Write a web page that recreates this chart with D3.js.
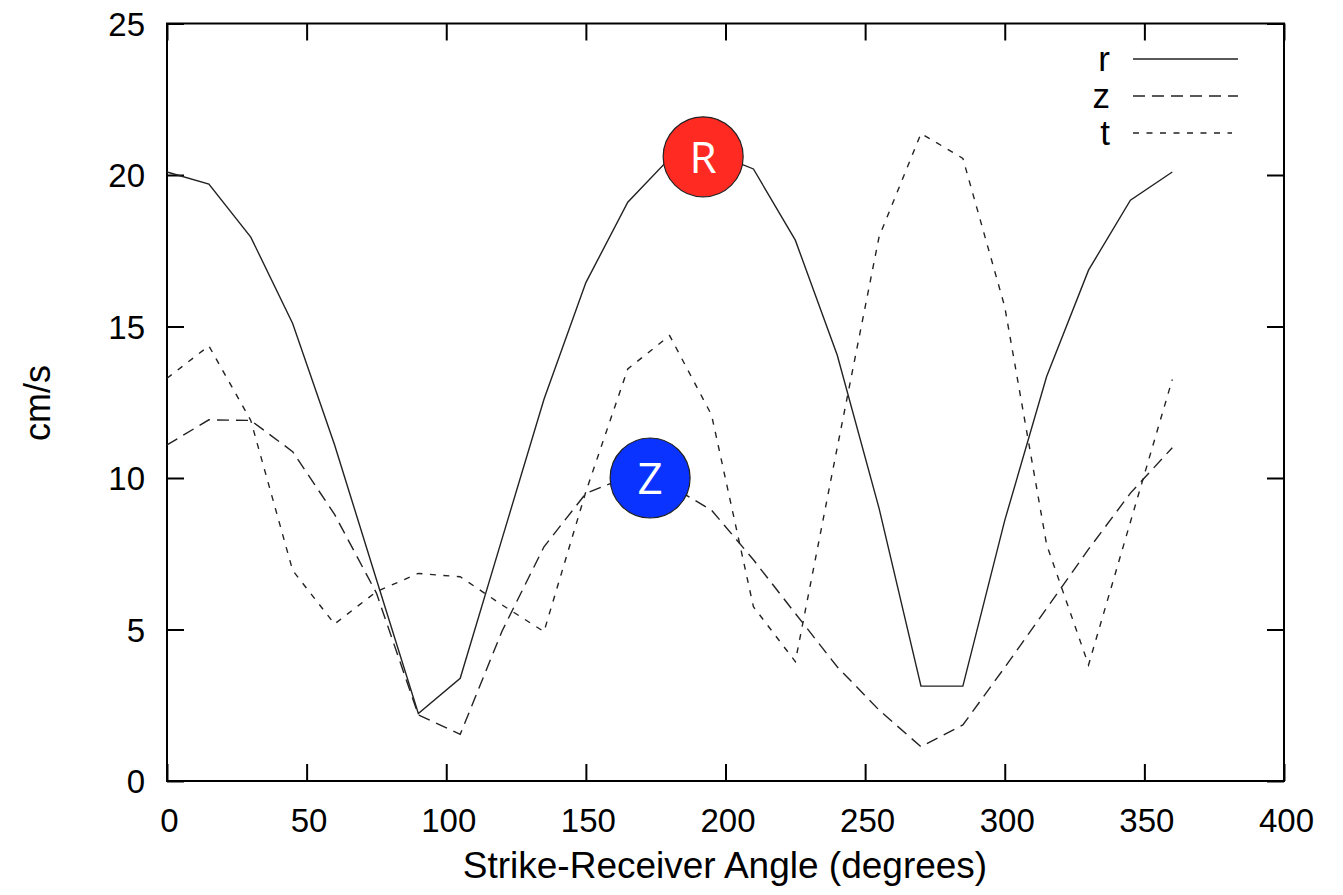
<!DOCTYPE html>
<html>
<head>
<meta charset="utf-8">
<script src="https://cdn.jsdelivr.net/npm/d3@7"></script>
<style>
  html, body { margin: 0; padding: 0; background: #fff; }
  svg { display: block; font-family: "Liberation Sans", Arial, Helvetica, sans-serif; }
</style>
</head>
<body>
<svg id="chart" width="1343" height="895"></svg>
<script>
// Strike-receiver angle, degrees
const angles = [0, 15, 30, 45, 60, 75, 90, 105, 120, 135, 150, 165, 180,
                195, 210, 225, 240, 255, 270, 285, 300, 315, 330, 345, 360];

// Peak velocity per component, cm/s
const rValues = [20.1, 19.7, 17.95, 15.1, 11.1, 6.65, 2.23, 3.39, 8.0, 12.6, 16.45, 19.1, 20.55,
                 20.75, 20.2, 17.85, 14.06, 9.0, 3.13, 3.13, 8.6, 13.35, 16.86, 19.17, 20.1];
const zValues = [11.09, 11.92, 11.9, 10.87, 8.8, 6.2, 2.18, 1.54, 4.95, 7.73, 9.49, 10.05, 9.75,
                 8.94, 7.3, 5.53, 3.77, 2.34, 1.13, 1.85, 3.75, 5.7, 7.65, 9.5, 11.0];
const tValues = [13.29, 14.36, 11.9, 6.95, 5.18, 6.25, 6.85, 6.74, 5.81, 4.93, 9.55, 13.6, 14.7,
                 12.08, 5.75, 3.94, 11.0, 17.96, 21.37, 20.55, 15.65, 7.8, 3.83, 8.55, 13.25];

// Axis ticks
const xTicks = [0, 50, 100, 150, 200, 250, 300, 350, 400];
const yTicks = [0, 5, 10, 15, 20, 25];

// Series names and dash patterns
const seriesNames = ["r", "z", "t"];
const seriesDash = [null, "12,7", "6,7.5"];

// Circular badges marking the radial and vertical peaks
const badgeLabels = ["R", "Z"];
const badgeAngles = [192, 173];
const badgeValues = [20.6, 10.0];
const badgeColors = ["#ff2a22", "#0a33ff"];

const svg = d3.select("#chart");
const plotLeft = 167, plotRight = 1284, plotTop = 23.5, plotBottom = 781;

const x = d3.scaleLinear().domain([0, 400]).range([plotLeft, plotRight]);
const y = d3.scaleLinear().domain([0, 25]).range([plotBottom, plotTop]);

const tickLen = 17;
const fontTick = 33;

// Bottom axis with labels
const gx = svg.append("g").attr("transform", `translate(0,${plotBottom})`)
  .call(d3.axisBottom(x).tickValues(xTicks).tickSize(-tickLen).tickSizeOuter(0).tickFormat(d3.format("d")));
// Top mirror
const gxt = svg.append("g").attr("transform", `translate(0,${plotTop})`)
  .call(d3.axisTop(x).tickValues(xTicks).tickSize(-tickLen).tickSizeOuter(0).tickFormat(""));
// Left axis with labels
const gy = svg.append("g").attr("transform", `translate(${plotLeft},0)`)
  .call(d3.axisLeft(y).tickValues(yTicks).tickSize(-tickLen).tickSizeOuter(0).tickFormat(d3.format("d")));
// Right mirror
const gyr = svg.append("g").attr("transform", `translate(${plotRight},0)`)
  .call(d3.axisRight(y).tickValues(yTicks).tickSize(-tickLen).tickSizeOuter(0).tickFormat(""));

[gx, gxt, gy, gyr].forEach(g => {
  g.select(".domain").remove();
  g.selectAll(".tick line").attr("stroke", "#000").attr("stroke-width", 2);
});

gx.selectAll(".tick text")
  .attr("y", 51).attr("dy", null).attr("dx", 2)
  .attr("font-size", fontTick).attr("fill", "#000")
  .attr("font-family", "Liberation Sans, Arial, sans-serif");

gy.selectAll(".tick text")
  .attr("x", 145 - plotLeft).attr("dy", "0.36em")
  .attr("font-size", fontTick).attr("fill", "#000")
  .attr("font-family", "Liberation Sans, Arial, sans-serif");

// Plot frame
svg.append("rect")
  .attr("x", plotLeft).attr("y", plotTop)
  .attr("width", plotRight - plotLeft).attr("height", plotBottom - plotTop)
  .attr("fill", "none").attr("stroke", "#000").attr("stroke-width", 2);

// Series lines
const line = d3.line().x(d => x(d[0])).y(d => y(d[1]));
const seriesValues = [rValues, zValues, tValues];
seriesValues.forEach((vals, i) => {
  svg.append("path")
    .datum(angles.map((a, j) => [a, vals[j]]))
    .attr("d", line)
    .attr("fill", "none")
    .attr("stroke", "#222")
    .attr("stroke-width", 1.4)
    .attr("stroke-dasharray", seriesDash[i]);
});

// Legend
const legendY = [59, 96, 133];
const legendEnd = [1238, 1238, 1232];
seriesNames.forEach((name, i) => {
  svg.append("text")
    .attr("x", 1110).attr("y", legendY[i] + 12)
    .attr("text-anchor", "end")
    .attr("font-size", 35)
    .attr("fill", "#000")
    .text(name);
  svg.append("line")
    .attr("x1", 1133).attr("x2", legendEnd[i])
    .attr("y1", legendY[i]).attr("y2", legendY[i])
    .attr("stroke", "#222").attr("stroke-width", 1.4)
    .attr("stroke-dasharray", seriesDash[i]);
});

// Badges
badgeLabels.forEach((lab, i) => {
  const cx = x(badgeAngles[i]), cy = y(badgeValues[i]);
  svg.append("circle")
    .attr("cx", cx).attr("cy", cy).attr("r", 40)
    .attr("fill", badgeColors[i])
    .attr("stroke", "#222").attr("stroke-width", 1.2);
  svg.append("text")
    .attr("x", cx).attr("y", cy + 16)
    .attr("text-anchor", "middle")
    .attr("font-family", "Open Sans, Noto Sans, sans-serif")
    .attr("font-size", 44)
    .attr("fill", "#fff")
    .text(lab);
});

// Axis titles
svg.append("text")
  .attr("x", 725).attr("y", 878)
  .attr("text-anchor", "middle")
  .attr("font-size", 37)
  .attr("fill", "#000")
  .text("Strike-Receiver Angle (degrees)");

svg.append("text")
  .attr("transform", `translate(50,403) rotate(-90)`)
  .attr("text-anchor", "middle")
  .attr("font-size", 36)
  .attr("fill", "#000")
  .text("cm/s");
</script>
</body>
</html>
